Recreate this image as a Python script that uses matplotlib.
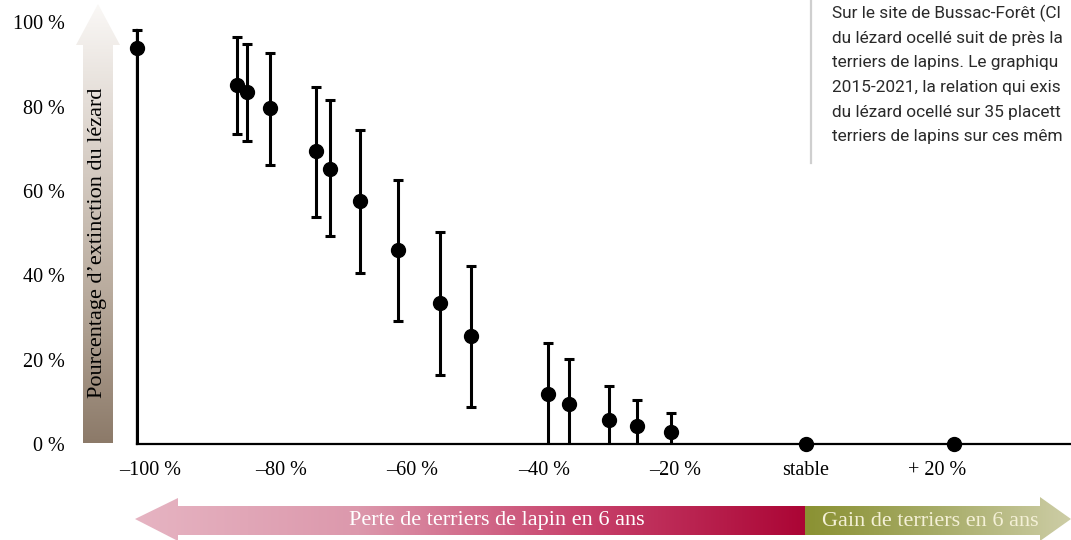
import numpy as np
import matplotlib
matplotlib.use("Agg")
import matplotlib.pyplot as plt
from matplotlib.patches import Polygon
from matplotlib.colors import LinearSegmentedColormap
from matplotlib import font_manager

# ---------------- data ----------------
loss_pct = [-102.0, -86.8, -85.2, -81.8, -74.7, -72.6, -68.1, -62.2, -55.8, -51.1,
            -39.4, -36.1, -30.1, -25.7, -20.6, 0.0, 22.6]
extinction = [94.0, 85.1, 83.4, 79.6, 69.5, 65.3, 57.7, 46.0, 33.4, 25.7,
              11.9, 9.5, 5.7, 4.3, 3.0, 0.0, 0.0]
err_low = [0.0, 73.5, 71.9, 66.1, 53.9, 49.4, 40.5, 29.2, 16.4, 8.8,
           0.0, 0.0, 0.0, 0.0, 0.0, 0.0, 0.0]
err_high = [98.2, 96.4, 94.9, 92.7, 84.7, 81.7, 74.5, 62.7, 50.3, 42.3,
            23.9, 20.1, 13.9, 10.5, 7.5, 0.0, 0.0]

x_ticks = [-100, -80, -60, -40, -20, 0, 20]
x_labels = ["–100 %", "–80 %", "–60 %", "–40 %", "–20 %", "stable", "+ 20 %"]
y_ticks = [0, 20, 40, 60, 80, 100]
y_labels = ["0 %", "20 %", "40 %", "60 %", "80 %", "100 %"]

y_title = "Pourcentage d’extinction du lézard"
loss_title = "Perte de terriers de lapin en 6 ans"
gain_title = "Gain de terriers en 6 ans"
# only the part of the note visible in the reference (cut at its right edge)
note_lines = [
    "Sur le site de Bussac-Forêt (Cl",
    "du lézard ocellé suit de près la",
    "terriers de lapins. Le graphiqu",
    "2015-2021, la relation qui exis",
    "du lézard ocellé sur 35 placett",
    "terriers de lapins sur ces mêm",
]

# ---------------- fonts ----------------
names = {f.name for f in font_manager.fontManager.ttflist}
serif = "Liberation Serif" if "Liberation Serif" in names else "DejaVu Serif"
narrow = next((n for n in ["Liberation Sans Narrow", "DejaVu Sans Condensed",
                           "Roboto", "DejaVu Sans"] if n in names), "DejaVu Sans")

W, H = 1071, 540
fig = plt.figure(figsize=(W / 100, H / 100), dpi=100)
fig.patch.set_facecolor("white")

# background overlay in pixel coordinates
bg = fig.add_axes([0, 0, 1, 1], zorder=0)
bg.set_xlim(0, W)
bg.set_ylim(H, 0)
bg.axis("off")


def grad_arrow(ax, pts, colors, horizontal=True):
    pts = np.array(pts, float)
    x0, x1 = pts[:, 0].min(), pts[:, 0].max()
    y0, y1 = pts[:, 1].min(), pts[:, 1].max()
    cmap = LinearSegmentedColormap.from_list("g", colors)
    if horizontal:
        g = np.linspace(0, 1, 256)[None, :]
    else:
        g = np.linspace(0, 1, 256)[:, None]
    im = ax.imshow(g, cmap=cmap, extent=(x0, x1, y1, y0), aspect="auto",
                   origin="upper", zorder=1)
    poly = Polygon(pts, closed=True, facecolor="none", edgecolor="none",
                   transform=ax.transData)
    ax.add_patch(poly)
    im.set_clip_path(poly)


# vertical arrow (y title)
grad_arrow(bg, [(83, 443), (113, 443), (113, 45), (120, 45), (98, 4), (76, 45), (83, 45)],
           ["#faf8f6", "#d9d0c8", "#b8aa9c", "#8c7a69"], horizontal=False)
# loss arrow
grad_arrow(bg, [(805, 506), (805, 535), (178, 535), (178, 541), (135, 519), (178, 498), (178, 506)],
           ["#e6b4c2", "#dc98ac", "#c8426c", "#ab0535"])
# gain arrow
grad_arrow(bg, [(805, 506), (1040, 506), (1040, 497), (1071, 519), (1040, 541), (1040, 535), (805, 535)],
           ["#8a9132", "#a7ac68", "#cdcda6"])
bg.set_xlim(0, W)
bg.set_ylim(H, 0)

bg.text(98, 243, y_title, rotation=90, ha="center", va="center",
        fontsize=16, family=serif, color="black", zorder=3)
bg.text(497, 521, loss_title, ha="center", va="center",
        fontsize=16, family=serif, color="white", zorder=3)
bg.text(930, 521, gain_title, ha="center", va="center",
        fontsize=16, family=serif, color="#f4f0d6", zorder=3)

# note box
bg.plot([811, 811], [0, 163], color="#cfcfcf", lw=1.6, zorder=2)
for i, line in enumerate(note_lines):
    bg.text(832, 13.5 + i * 24.7, line, ha="left", va="center",
            fontsize=12.4, family=narrow, color="#2a2a2a", zorder=3)

# ---------------- main axes ----------------
left = 137 / W
bottom = (H - 444.3) / H
ax = fig.add_axes([left, bottom, 1 - left, 422 / H], zorder=2)
ax.patch.set_alpha(0)

x = np.array(loss_pct)
y = np.array(extinction)
lo = np.array(err_low)
hi = np.array(err_high)
has_err = hi > 0
for grp_mask, hide_low in [(has_err & (lo > 0), False), (has_err & (lo == 0), True)]:
    eb = ax.errorbar(x[grp_mask], y[grp_mask],
                     yerr=[y[grp_mask] - lo[grp_mask], hi[grp_mask] - y[grp_mask]],
                     fmt="o", color="black", ms=10, elinewidth=2.2, capsize=3.3,
                     capthick=2.2, zorder=4)
    eb.lines[0].set_clip_on(False)
    for c in eb.lines[1]:
        c.set_clip_on(False)
    for c in eb.lines[2]:
        c.set_clip_on(False)
    if hide_low:
        eb.lines[1][0].set_visible(False)
ax.plot(x[~has_err], y[~has_err], "o", color="black", ms=10, clip_on=False, zorder=4)

ax.set_xlim(-102.05, 40.45)
ax.set_ylim(0, 100)
for s in ["top", "right"]:
    ax.spines[s].set_visible(False)
ax.spines["left"].set_bounds(0, 98.2)
ax.spines["left"].set_linewidth(1.6)
ax.spines["bottom"].set_linewidth(1.6)

ax.set_xticks(x_ticks)
ax.set_xticklabels(x_labels, family=serif, fontsize=14.5)
ax.set_yticks(y_ticks)
ax.set_yticklabels(y_labels, family=serif, fontsize=14.5)
ax.tick_params(axis="y", length=0, pad=52)
ax.tick_params(axis="x", length=0, pad=12)

fig.savefig("out.png", dpi=100)
